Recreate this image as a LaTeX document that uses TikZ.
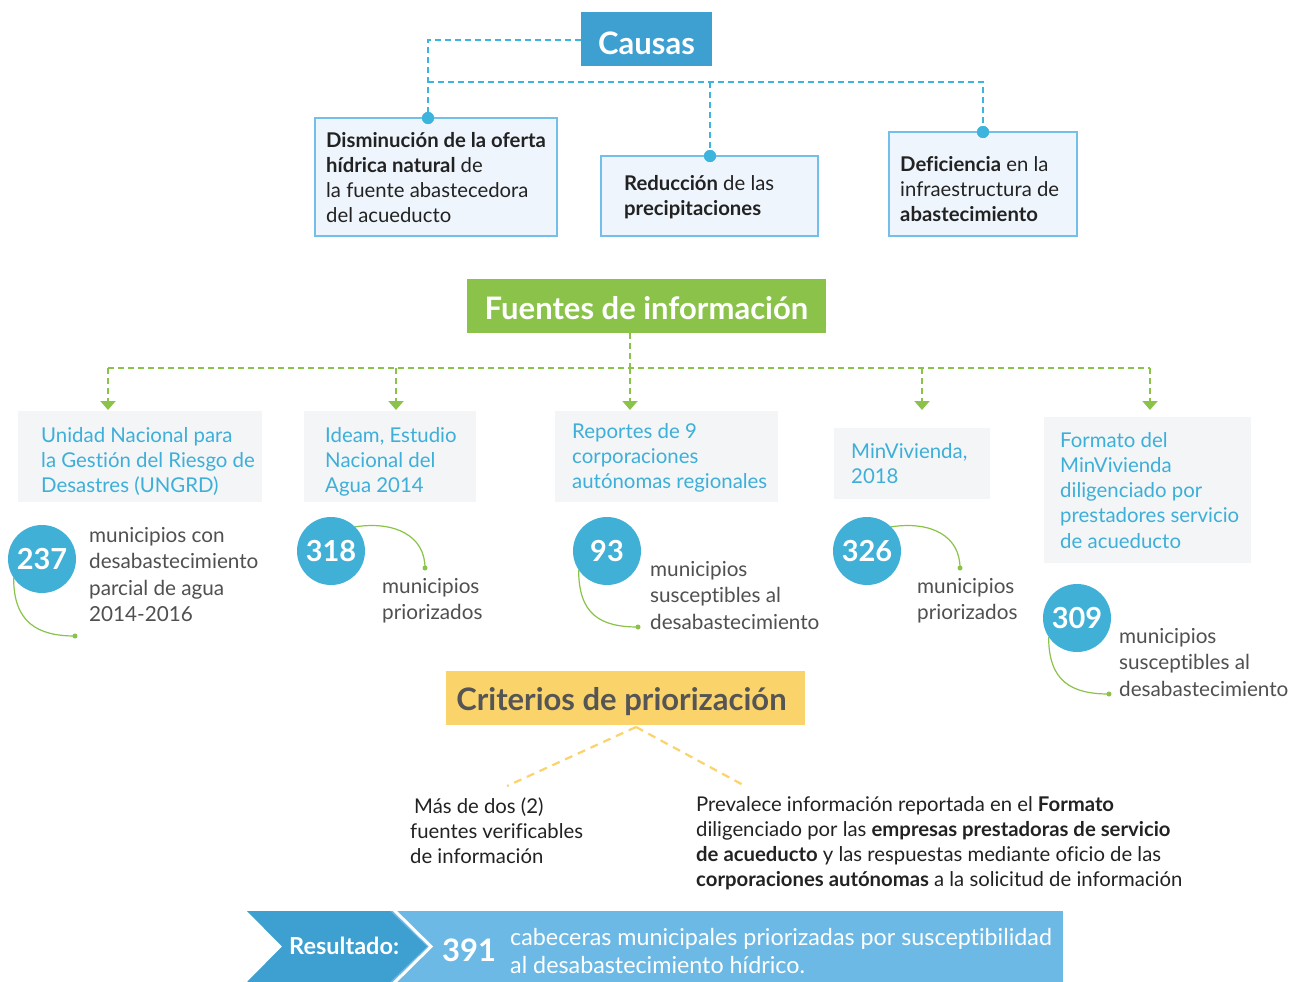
\documentclass[tikz,border=0pt]{standalone}
\usepackage{fontspec}
\setmainfont{Lato}[Ligatures=NoCommon]
\usetikzlibrary{arrows.meta}
\definecolor{causasblue}{HTML}{3E9FD1}
\definecolor{cyanline}{HTML}{3CB4DD}
\definecolor{boxborder}{HTML}{74BFEA}
\definecolor{boxfill}{HTML}{EEF5FC}
\definecolor{fgreen}{HTML}{8BC34A}
\definecolor{srcfill}{HTML}{F3F5F7}
\definecolor{srctext}{HTML}{3DAFD8}
\definecolor{circblue}{HTML}{40B0D6}
\definecolor{graytext}{HTML}{505050}
\definecolor{yell}{HTML}{FAD36B}
\definecolor{critext}{HTML}{555555}
\definecolor{darktext}{HTML}{222222}
\definecolor{bandark}{HTML}{3E9FD1}
\definecolor{banlight}{HTML}{6CB9E6}
\begin{document}
\begin{tikzpicture}[x=1pt,y=-1pt,
  titletxt/.style={anchor=base, inner sep=0, text=white, font=\fontsize{31}{36}\selectfont\bfseries},
  titlebox/.style={inner sep=0, draw=none},
  causebox/.style={draw=boxborder, fill=boxfill, line width=2.5pt, inner sep=0},
  causetxt/.style={anchor=base west, inner sep=0, align=left, text=darktext, font=\fontsize{20.3}{25}\selectfont},
  cdash/.style={draw=cyanline, line width=2pt, dash pattern=on 6pt off 4pt},
  cdot/.style={circle, fill=cyanline, inner sep=0, minimum size=12pt},
  gdash/.style={draw=fgreen, line width=2pt, dash pattern=on 6pt off 4pt},
  garrow/.style={gdash, -{Triangle[width=15pt,length=9pt]}},
  srcbox/.style={fill=srcfill, inner sep=0},
  srctxt/.style={anchor=base west, inner sep=0, align=left, text=srctext, font=\fontsize{20.4}{25.3}\selectfont},
  numcirc/.style={circle, fill=circblue, inner sep=0, minimum size=68pt, text=white, font=\fontsize{29}{34}\selectfont\bfseries},
  graytxt/.style={anchor=base west, inner sep=0, align=left, text=graytext, font=\fontsize{20.7}{26.6}\selectfont},
  gcurve/.style={draw=fgreen, line width=1.2pt},
  gdot/.style={circle, fill=fgreen, inner sep=0, minimum size=5pt},
  ydash/.style={draw=yell, line width=2.2pt, dash pattern=on 8pt off 6pt},
  crittxt/.style={anchor=base west, inner sep=0, align=left, text=darktext, font=\fontsize{20.3}{25}\selectfont},
  bantxt/.style={anchor=base west, inner sep=0, text=white}
]
\useasboundingbox (0,0) rectangle (1291,982);
\fill[white] (0,0) rectangle (1291,982);

% ---------- Causas ----------
\node[titlebox, fill=causasblue, minimum width=131pt, minimum height=54pt] (causas) at (646.5,39) {};
\node[titletxt] (causastxt) at (646.5,55) {Causas};

\node[causebox, minimum width=242pt, minimum height=118pt] (b1) at (436,177) {};
\node[causebox, minimum width=217pt, minimum height=80pt] (b2) at (709.5,196) {};
\node[causebox, minimum width=188pt, minimum height=104pt] (b3) at (983,184) {};

\node[cdot] (d1) at (428,118) {};
\node[cdot] (d2) at (710,156) {};
\node[cdot] (d3) at (983,132) {};
\coordinate (cj0) at (428,40);
\coordinate (cj1) at (428,82);
\coordinate (cj2) at (710,82);
\coordinate (cj3) at (983,82);
\draw[cdash] (causas.west |- cj0) -- (cj0) -- (d1.center);
\draw[cdash] (cj1) -- (cj3) -- (d3.center);
\draw[cdash] (cj2) -- (d2.center);
\node[cdot] at (d1) {};
\node[cdot] at (d2) {};
\node[cdot] at (d3) {};

\node[causetxt] (t1) at (326,222) {\textbf{Disminución de la oferta}\\\textbf{hídrica natural} de\\la fuente abastecedora\\del acueducto};
\node[causetxt] (t2) at (624,215) {\textbf{Reducción} de las\\\textbf{precipitaciones}};
\node[causetxt] (t3) at (900,221) {\textbf{Deficiencia} en la\\infraestructura de\\\textbf{abastecimiento}};

% ---------- Fuentes ----------
\node[titlebox, fill=fgreen, minimum width=359pt, minimum height=54pt] (fuentes) at (646.5,306) {};
\node[titletxt] (fuentestxt) at (646.5,319) {Fuentes de información};

\coordinate (gj) at (630,368);
\coordinate (gl) at (108,368);
\coordinate (gr) at (1150,368);
\coordinate (g2) at (396,368);
\coordinate (g4) at (922,368);
\coordinate (a1) at (108,410);
\coordinate (a2) at (396,410);
\coordinate (a3) at (630,410);
\coordinate (a4) at (922,410);
\coordinate (a5) at (1150,410);
\draw[gdash] (fuentes.south -| gj) -- (gj);
\draw[gdash] (gl) -- (gr);
\draw[garrow] (gl) -- (a1);
\draw[garrow] (g2) -- (a2);
\draw[garrow] (gj) -- (a3);
\draw[garrow] (g4) -- (a4);
\draw[garrow] (gr) -- (a5);

\node[srcbox, minimum width=244pt, minimum height=91pt] (s1) at (140,456.5) {};
\node[srcbox, minimum width=172pt, minimum height=91pt] (s2) at (390,456.5) {};
\node[srcbox, minimum width=223pt, minimum height=91pt] (s3) at (666.5,456.5) {};
\node[srcbox, minimum width=156pt, minimum height=71pt] (s4) at (912,463.5) {};
\node[srcbox, minimum width=207pt, minimum height=146pt] (s5) at (1147.5,490) {};

\node[srctxt] (st1) at (41,492.6) {Unidad Nacional para\\la Gestión del Riesgo de\\Desastres (UNGRD)};
\node[srctxt] (st2) at (325,492.6) {Ideam, Estudio\\Nacional del\\Agua 2014};
\node[srctxt] (st3) at (572,488.6) {Reportes de 9\\corporaciones\\autónomas regionales};
\node[srctxt] (st4) at (851,483.3) {MinVivienda,\\2018};
\node[srctxt] (st5) at (1060,548.2) {Formato del\\MinVivienda\\diligenciado por\\prestadores servicio\\de acueducto};

% circles
\node[numcirc] (c1) at (42,559) {237};
\node[numcirc] (c2) at (331,551) {318};
\node[numcirc] (c3) at (607,551) {93};
\node[numcirc] (c4) at (867,551) {326};
\node[numcirc] (c5) at (1077,618) {309};

\node[gdot] (e1) at (75,636) {};
\node[gdot] (e2) at (425,568) {};
\node[gdot] (e3) at (638,627) {};
\node[gdot] (e4) at (960,568) {};
\node[gdot] (e5) at (1109,694) {};

\draw[gcurve] (c1.214) .. controls +(0,44) and +(-38,0) .. (e1.center);
\draw[gcurve] (c2.45) .. controls +(40,-6) and +(0,-32) .. (e2.center);
\draw[gcurve] (c3.214) .. controls +(0,44) and +(-38,0) .. (e3.center);
\draw[gcurve] (c4.45) .. controls +(40,-6) and +(0,-32) .. (e4.center);
\draw[gcurve] (c5.214) .. controls +(0,44) and +(-38,0) .. (e5.center);

\node[graytxt] (n1) at (89,621.8) {municipios con\\desabastecimiento\\parcial de agua\\2014-2016};
\node[graytxt] (n2) at (382,619.6) {municipios\\priorizados};
\node[graytxt] (n3) at (650,629.2) {municipios\\susceptibles al\\desabastecimiento};
\node[graytxt] (n4) at (917,619.6) {municipios\\priorizados};
\node[graytxt] (n5) at (1119,696.2) {municipios\\susceptibles al\\desabastecimiento};

% ---------- Criterios ----------
\node[titlebox, fill=yell, minimum width=359pt, minimum height=54pt] (crit) at (625.5,698) {};
\node[titletxt, text=critext] (crittitle) at (621.5,710) {Criterios de priorización};

\coordinate (ya) at (636,727);
\coordinate (yl) at (507,786);
\coordinate (yr) at (745,786);
\draw[ydash] (ya) -- (yl);
\draw[ydash] (ya) -- (yr);

\node[crittxt] (cl) at (410,863) {\hspace{4pt}Más de dos (2)\\fuentes verificables\\de información};
\node[crittxt] (cr) at (696,886) {Prevalece información reportada en el \textbf{Formato}\\diligenciado por las \textbf{empresas prestadoras de servicio}\\\textbf{de acueducto} y las respuestas mediante oficio de las\\\textbf{corporaciones autónomas} a la solicitud de información};

% ---------- Resultado ----------
\fill[banlight] (390,911) rectangle (1063,982);
\fill[bandark] (247,911) -- (390,911) -- (427,946.5) -- (390,982) -- (247,982) -- (282,946.5) -- cycle;
\draw[white, line width=3pt] (393,909) -- (431,946.5) -- (393,984);
\node[bantxt, font=\fontsize{23.5}{26}\selectfont\bfseries] (res) at (289,954) {Resultado:};
\node[bantxt, font=\fontsize{31}{36}\selectfont\bfseries] (num) at (442,961) {391};
\node[bantxt, anchor=base west, align=left, font=\fontsize{23.3}{28}\selectfont] (restxt) at (510,973) {cabeceras municipales priorizadas por susceptibilidad\\al desabastecimiento hídrico.};
\end{tikzpicture}
\end{document}
